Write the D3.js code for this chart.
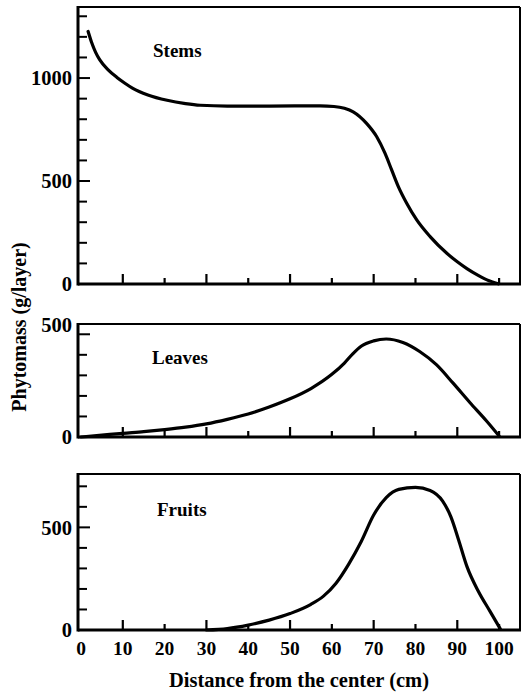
<!DOCTYPE html>
<html>
<head>
<meta charset="utf-8">
<script src="https://cdn.jsdelivr.net/npm/d3@7/dist/d3.min.js"></script>
<style>
  html, body { margin: 0; padding: 0; background: #fff; }
  svg { display: block; }
  text { font-family: "Liberation Serif", "Times New Roman", serif; font-weight: bold; fill: #000; }
</style>
</head>
<body>
<svg id="chart" width="526" height="695"></svg>
<script>
// ---- data ----
const xTickValues = [0, 10, 20, 30, 40, 50, 60, 70, 80, 90, 100];
const xTickLabels = ["0", "10", "20", "30", "40", "50", "60", "70", "80", "90", "100"];

const stemsX = [1.7, 2.5, 3.5, 4.5, 6.5, 8.6, 10.5, 12.4, 16, 20.6, 25, 28.5, 35, 45, 57.2, 60.5, 63, 65.1, 68.3, 70.7, 72.7, 74.3, 75.9, 77.9, 80.3, 83.5, 87.5, 90, 92.3, 95, 97.1, 99.8];
const stemsY = [1226, 1175, 1125, 1088, 1040, 1003, 975, 950, 918, 892, 876, 868, 864, 864, 865, 862, 853, 836, 780, 716, 635, 554, 473, 392, 311, 230, 149, 108, 75, 42, 20, 1];

const leavesX = [0, 5, 10, 15, 20, 25, 30, 35, 40, 45, 50, 55, 60, 63, 65, 67, 70, 73, 77, 81, 85, 89, 93, 97, 100];
const leavesY = [0, 9, 18, 26, 36, 48, 64, 86, 112, 146, 186, 236, 305, 360, 405, 442, 468, 477, 460, 416, 352, 262, 168, 78, 5];

const fruitsX = [30, 35, 40, 45, 50, 55, 58, 61, 64, 67, 70, 73, 76, 80, 83.5, 86.5, 88.5, 90.3, 92.3, 95, 97.8, 100.3];
const fruitsY = [0, 7, 24, 48, 80, 125, 165, 228, 320, 430, 560, 645, 685, 695, 680, 628, 550, 440, 310, 190, 92, 5];

const panelNames = ["Stems", "Leaves", "Fruits"];
const panelYMax = [1345, 550, 760];
const panelLabelTicks = [[0, 500, 1000], [0, 500], [0, 500]];
const minorTickStep = 100;

const xTitle = "Distance from the center (cm)";
const yTitle = "Phytomass (g/layer)";

// ---- layout ----
const svg = d3.select("#chart");
const frameLeft = 78, frameRight = 520;
const x = d3.scaleLinear().domain([0, 105]).range([81, 520]);

const panels = [
  { name: panelNames[0], xs: stemsX, ys: stemsY, yMax: panelYMax[0], top: 7, bottom: 284, labelTicks: panelLabelTicks[0], lx: 153, ly: 57, labelShift: {} },
  { name: panelNames[1], xs: leavesX, ys: leavesY, yMax: panelYMax[1], top: 324, bottom: 437, labelTicks: panelLabelTicks[1], lx: 152, ly: 364, labelShift: { 500: -9 } },
  { name: panelNames[2], xs: fruitsX, ys: fruitsY, yMax: panelYMax[2], top: 474, bottom: 630, labelTicks: panelLabelTicks[2], lx: 157, ly: 516, labelShift: {} }
];

panels.forEach((p, i) => {
  const y = d3.scaleLinear().domain([0, p.yMax]).range([p.bottom, p.top]);
  const g = svg.append("g");

  // frame
  g.append("line").attr("x1", frameLeft).attr("x2", frameRight).attr("y1", p.top).attr("y2", p.top)
    .attr("stroke", "#000").attr("stroke-width", 2);
  g.append("line").attr("x1", frameRight).attr("x2", frameRight).attr("y1", p.top).attr("y2", p.bottom)
    .attr("stroke", "#000").attr("stroke-width", 2);
  g.append("line").attr("x1", frameLeft).attr("x2", frameRight + 1).attr("y1", p.bottom).attr("y2", p.bottom)
    .attr("stroke", "#000").attr("stroke-width", 3);
  g.append("line").attr("x1", frameLeft).attr("x2", frameLeft).attr("y1", p.top - 1).attr("y2", p.bottom + 1.5)
    .attr("stroke", "#000").attr("stroke-width", 3);

  // y ticks (inside)
  const yTicks = d3.range(minorTickStep, p.yMax, minorTickStep);
  g.selectAll(".yt").data(yTicks).enter().append("line")
    .attr("x1", frameLeft).attr("x2", d => frameLeft + (p.labelTicks.includes(d) ? 12 : 9))
    .attr("y1", d => y(d)).attr("y2", d => y(d))
    .attr("stroke", "#000").attr("stroke-width", 2);

  // y labels
  g.selectAll(".yl").data(p.labelTicks).enter().append("text")
    .attr("x", 72).attr("y", d => y(d) + (p.labelShift[d] || 0))
    .attr("dy", "0.35em").attr("text-anchor", "end")
    .attr("font-size", 20.5)
    .text(d => d3.format("d")(d));

  // x ticks (inside, alternating length)
  g.selectAll(".xt").data(xTickValues.slice(1)).enter().append("line")
    .attr("x1", d => x(d)).attr("x2", d => x(d))
    .attr("y1", p.bottom).attr("y2", d => p.bottom - ((d / 10) % 2 === 1 ? 10 : 6))
    .attr("stroke", "#000").attr("stroke-width", 2.2);

  // curve
  const line = d3.line().x(d => x(d[0])).y(d => y(d[1])).curve(d3.curveMonotoneX);
  g.append("path").datum(p.xs.map((v, k) => [v, p.ys[k]]))
    .attr("d", line).attr("fill", "none").attr("stroke", "#000")
    .attr("stroke-width", 3.2).attr("stroke-linecap", "round").attr("stroke-linejoin", "round");

  // panel label
  g.append("text").attr("x", p.lx).attr("y", p.ly).attr("font-size", 19).text(p.name);

  // x tick labels on last panel
  if (i === panels.length - 1) {
    g.selectAll(".xl").data(xTickValues).enter().append("text")
      .attr("x", d => x(d)).attr("y", 655).attr("text-anchor", "middle")
      .attr("font-size", 19.5)
      .text((d, k) => xTickLabels[k]);
  }
});

// axis titles
svg.append("text").attr("x", 299).attr("y", 687).attr("text-anchor", "middle")
  .attr("font-size", 20.5).text(xTitle);
svg.append("text").attr("transform", "translate(26,327) rotate(-90)")
  .attr("text-anchor", "middle").attr("font-size", 20).text(yTitle);
</script>
</body>
</html>
